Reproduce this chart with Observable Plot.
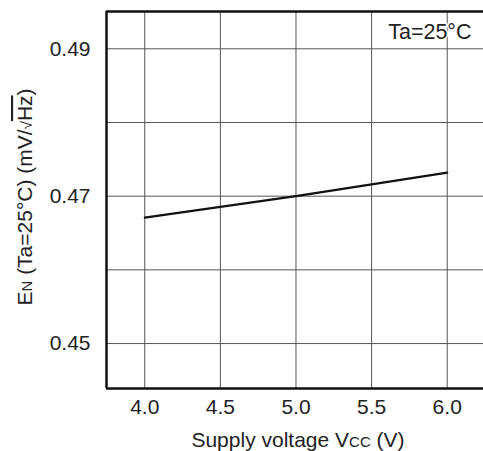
<!DOCTYPE html>
<html><head><meta charset="utf-8">
<script src="https://cdn.jsdelivr.net/npm/d3@7"></script>
<script src="https://cdn.jsdelivr.net/npm/@observablehq/plot@0.6"></script>
<style>
body{margin:0;background:#fff;}
svg{font-family:"Liberation Sans",Arial,sans-serif;}
</style></head><body><div id="chart"></div>
<script>
const voltage = [4.0, 5.0, 6.0];
const noise = [0.4671, 0.4700, 0.4732];
const xTicks = [4.0, 4.5, 5.0, 5.5, 6.0];
const yGrid = [0.45, 0.46, 0.47, 0.48, 0.49];
const yLabels = [0.45, 0.47, 0.49];
const annotation = "Ta=25°C";

const data = voltage.map((v, i) => ({v, n: noise[i]}));
const W = 483, H = 451;
const mL = 106, mT = 11, mB = 63, mR = 0;

const plot = Plot.plot({
  width: W, height: H,
  marginLeft: mL, marginTop: mT, marginBottom: mB, marginRight: mR,
  style: {fontFamily: '"Liberation Sans",Arial,sans-serif', background: "#fff", color: "#222"},
  x: {domain: [3.747, 6.24], ticks: xTicks, tickFormat: d => d.toFixed(1), label: null, tickSize: 0, tickPadding: 11},
  y: {domain: [0.4439, 0.49506], ticks: yLabels, tickFormat: d => d.toFixed(2), label: null, tickSize: 0, tickPadding: 16},
  marks: [
    Plot.ruleX(xTicks, {stroke: "#555", strokeWidth: 1}),
    Plot.ruleY(yGrid, {stroke: "#555", strokeWidth: 1}),
    Plot.line(data, {x: "v", y: "n", stroke: "#111", strokeWidth: 2.2}),
    Plot.text([annotation], {frameAnchor: "top-right", dx: -12, dy: 12, text: d => d, fontSize: 21.5, fill: "#222", stroke: "white", strokeWidth: 3}),
    Plot.ruleX([3.747], {stroke: "#111", strokeWidth: 2.5}),
    Plot.ruleY([0.4439], {stroke: "#111", strokeWidth: 2.5}),
    Plot.ruleY([0.49506], {stroke: "#111", strokeWidth: 2.5})
  ]
});
d3.select(plot).selectAll('[aria-label="x-axis tick label"], [aria-label="y-axis tick label"]').attr("font-size", 21).attr("fill", "#222");

const svg = d3.select(plot);
const xl = svg.append("text").attr("x", 298).attr("y", 447).attr("text-anchor", "middle").attr("font-size", 21).attr("fill", "#222");
xl.append("tspan").text("Supply voltage V");
xl.append("tspan").attr("font-size", 15).text("CC");
xl.append("tspan").text(" (V)");

const yl = svg.append("text").attr("transform", "translate(32,197) rotate(-90)").attr("text-anchor", "middle").attr("font-size", 21).attr("fill", "#222");
yl.append("tspan").text("E");
yl.append("tspan").attr("font-size", 15).text("N");
yl.append("tspan").text(" (Ta=25°C) (mV/");
yl.append("tspan").attr("font-size", 15).text("√");
yl.append("tspan").attr("text-decoration", "overline").text("Hz");
yl.append("tspan").text(")");

document.getElementById("chart").appendChild(plot);
</script></body></html>
